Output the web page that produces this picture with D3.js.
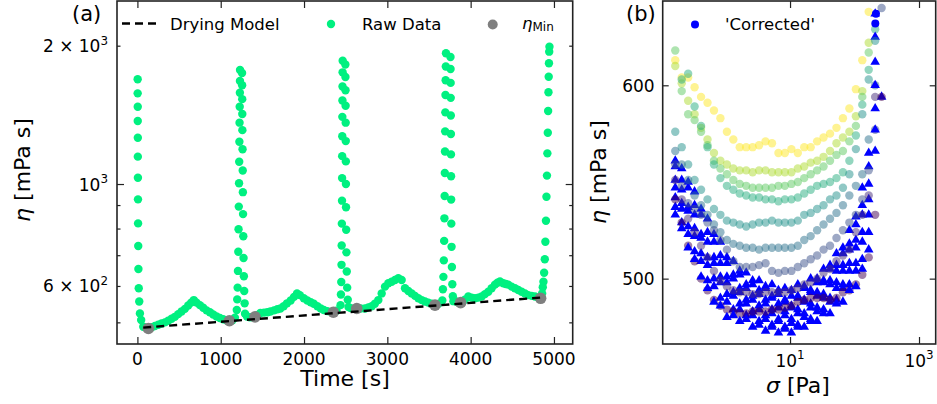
<!DOCTYPE html>
<html>
<head>
<meta charset="utf-8">
<script src="https://cdn.jsdelivr.net/npm/d3@7"></script>
<style>
  body { margin: 0; background: #fff; }
  text { font-family: "DejaVu Sans", sans-serif; fill: #000; }
</style>
</head>
<body>
<svg id="chart" width="937" height="404"></svg>
<script>
// ---------- panel (a): viscosity vs time ----------
const xTicksA = [0, 1000, 2000, 3000, 4000, 5000];
const yTicksA = [600, 1000, 2000];
const yTickLabelsA = [['6 × 10', '2'], ['10', '3'], ['2 × 10', '3']];
const yMinorA = [500, 700, 800, 900];

// raw data: spikes are the stress sweeps, the rest the rest periods
const rawTime = [
  3, 3, 4, 4, 5, 5, 6, 7, 8, 10, 12, 16, 22, 30, 45, 70,
  100, 132, 170, 210, 250, 290, 330, 370, 410, 450, 490, 530, 570, 610, 645, 677, 710, 750, 790, 830, 870, 910, 950, 990, 1030, 1070, 1104, 1140, 1170,
  1193, 1198, 1203, 1207, 1211, 1214, 1217, 1220, 1222, 1224, 1226, 1228, 1230, 1231, 1232,
  1256, 1257, 1258, 1259, 1260, 1262, 1264, 1266, 1268, 1271, 1274, 1278, 1282, 1287, 1292,
  1316, 1350, 1385, 1412, 1440, 1476, 1520, 1560, 1596, 1640, 1680, 1716, 1756, 1796, 1840, 1880, 1916, 1950, 1997, 2040, 2080, 2117, 2160, 2200, 2237, 2280, 2320, 2352, 2390,
  2438, 2443, 2447, 2450, 2452, 2454, 2456, 2457, 2458, 2459, 2460, 2461, 2462, 2463, 2464,
  2496, 2497, 2498, 2499, 2500, 2501, 2502, 2503, 2504, 2506, 2509, 2513, 2518, 2525, 2534,
  2560, 2600, 2633, 2680, 2732, 2772, 2812, 2850, 2892, 2932, 2972, 3012, 3052, 3092, 3132, 3172, 3212, 3252, 3292, 3332, 3372, 3412, 3452, 3492, 3532, 3572, 3610,
  3660, 3667, 3673, 3678, 3682, 3685, 3688, 3690, 3692, 3694, 3696, 3698, 3700, 3702, 3704,
  3758, 3759, 3760, 3761, 3762, 3763, 3764, 3765, 3766, 3768, 3771, 3775, 3780, 3786, 3793,
  3820, 3850, 3880, 3930, 3972, 4012, 4052, 4092, 4132, 4172, 4212, 4252, 4292, 4322, 4352, 4392, 4422, 4452, 4492, 4532, 4572, 4612, 4652, 4692, 4732, 4772, 4810, 4840,
  4858, 4866, 4874, 4882, 4890, 4897, 4904, 4910, 4916, 4921, 4926, 4930, 4934, 4937, 4940, 4943, 4946
];
const rawEta = [
  1690, 1575, 1473, 1371, 1261, 1147, 1032, 926, 821, 733, 653, 593, 555, 523, 506, 489,
  487, 485, 488, 491, 494, 497, 500, 504, 509, 514, 521, 528, 535, 544, 552, 559, 552, 545, 538, 531, 526, 520, 515, 511, 508, 505, 504, 505, 512,
  532, 561, 595, 647, 712, 797, 893, 1004, 1118, 1236, 1360, 1473, 1580, 1676, 1771,
  1745, 1640, 1530, 1420, 1310, 1190, 1070, 960, 860, 770, 690, 630, 585, 550, 522,
  515, 513, 513, 514, 518, 524, 525, 526, 528, 531, 534, 536, 542, 550, 558, 568, 578, 573, 564, 558, 553, 549, 542, 536, 532, 529, 527, 526, 530,
  545, 575, 612, 667, 735, 820, 920, 1030, 1150, 1270, 1400, 1520, 1630, 1750, 1855,
  1820, 1710, 1600, 1480, 1360, 1240, 1120, 1000, 890, 795, 710, 645, 595, 560, 540,
  537, 535, 536, 536, 536, 539, 542, 549, 559, 578, 598, 608, 613, 618, 624, 618, 593, 585, 578, 571, 564, 559, 555, 552, 549, 545, 548,
  558, 590, 628, 682, 752, 842, 942, 1057, 1177, 1302, 1432, 1562, 1682, 1802, 1925,
  1890, 1780, 1660, 1540, 1410, 1285, 1160, 1040, 925, 820, 730, 660, 605, 570, 556,
  556, 553, 552, 560, 569, 566, 564, 566, 569, 576, 583, 593, 604, 610, 614, 608, 606, 604, 598, 593, 588, 583, 578, 573, 571, 569, 566, 564,
  578, 596, 613, 641, 686, 749, 832, 938, 1043, 1166, 1293, 1442, 1584, 1712, 1831, 1941, 1990
];
const minTime = [132, 1104, 1412, 2352, 2633, 3572, 3880, 4840];
const minEta = [485, 504, 514, 526, 536, 545, 552, 564];
const dryTime = [70, 4890];
const dryEta = [487, 567];

// ---------- panel (b): viscosity vs stress ----------
const xTicksB = [10, 1000];
const yTicksB = [500, 600];
const sigmaGrid = [0.166, 0.209, 0.263, 0.331, 0.417, 0.525, 0.661, 0.832, 1.05, 1.32, 1.66, 2.09, 2.63, 3.31, 4.17,
  5.25, 6.61, 8.32, 10.5, 13.2, 16.6, 20.9, 26.3, 33.1, 41.7, 52.5, 66.1, 83.2, 105, 132, 166, 209, 263];

// measured curves, earliest (yellow) to latest (dark purple)
const etaSweep1 = [613, 604, 604, 599, 594, 591, 587, 583, 576, 572, 568, 568, 568, 569, 571, 570, 565, 565, 567, 565, 568, 568, 571, 573, 575, 578, 583, 588, 598, 613, 638];
const etaSweep2 = [610, 601, 592, 585, 578, 572, 565, 561, 559, 557, 556, 556, 555, 556, 556, 555, 555, 555, 555, 557, 558, 560, 561, 563, 566, 570, 573, 576, 584, 597, 622];
const etaSweep3 = [618, 597, 585, 582, 576, 569, 561, 557, 554, 551, 549, 548, 547, 547, 547, 547, 548, 548, 549, 550, 552, 554, 556, 558, 561, 564, 566, 571, 579, 594, 617];
const etaSweep4 = [null, 603, 606, 589, 579, 568, 559, 552, 548, 546, 544, 543, 542, 542, 541, 541, 540, 541, 541, 542, 544, 546, 548, 549, 550, 552, 555, 561, 574, 590, 608, 629];
const etaSweep5 = [576, 568, 559, 551, 546, 541, 536, 533, 530, 529, 528, 527, 528, 529, 529, 530, 529, 529, 529, 530, 533, 534, 536, 538, 541, 543, 547, 554, 567, 585, 603, 623];
const etaSweep6 = [566, 559, 551, 543, 538, 533, 528, 524, 520, 518, 517, 516, 516, 515, 516, 516, 516, 516, 516, 517, 520, 522, 525, 528, 531, 534, 538, 543, 548, 554, 572, 600];
const etaSweep7 = [559, 548, 539, 536, 533, 529, 525, 520, 515, 509, 506, 506, 506, 507, 508, 504, 503, 504, 504, 506, 508, 510, 512, 515, 517, 521, 525, 529, 533, 541, 556, 577, 640];
const etaSweep8 = [551, 541, 531, 524, 517, 511, 504, 499, 496, 494, 493, 493, 492, 492, 493, 493, 493, 493, 494, 495, 497, 498, 500, 503, 505, 509, 512, 515, 524, 533, 543, 594];
const etaSweep9 = [541, 529, 517, 509, 500, 494, 489, 486, 484, 483, 482, 482, 483, 483, 483, 484, 484, 485, 486, 488, 489, 490, 490, 490, 489, 490, 493, 494, 497, 502, 511, 533, 594];

// drying-corrected curves (triangles)
const etaCorr1 = [561, 557, 550, 545, 536, 531, 523, 519, 511, 509, 504, 503, 499, 499, 496, 497, 494, 495, 494, 497, 496, 500, 500, 505, 507, 513, 516, 525, 532, 547, 565, 637];
const etaCorr2 = [558, 551, 547, 538, 533, 524, 519, 512, 508, 502, 502, 497, 497, 494, 495, 491, 492, 489, 491, 491, 495, 494, 498, 499, 505, 507, 513, 518, 528, 538, 558, 625];
const etaCorr3 = [551, 546, 537, 533, 523, 519, 511, 508, 501, 500, 495, 495, 491, 492, 489, 490, 487, 488, 486, 490, 489, 493, 493, 498, 499, 504, 507, 515, 520, 533, 549, 612];
const etaCorr4 = [547, 539, 535, 526, 521, 511, 508, 501, 498, 493, 493, 489, 489, 486, 487, 484, 485, 483, 485, 484, 488, 487, 491, 492, 497, 498, 504, 508, 516, 524, 541, 600, 594];
const etaCorr5 = [542, 536, 527, 522, 513, 507, 500, 498, 492, 491, 487, 487, 483, 484, 481, 482, 479, 481, 479, 482, 482, 485, 485, 490, 490, 495, 497, 504, 508, 519, 533, 588];
const etaCorr6 = [537, 529, 523, 514, 509, 499, 496, 490, 488, 484, 484, 481, 481, 478, 479, 476, 478, 475, 477, 476, 480, 479, 483, 484, 488, 489, 495, 497, 504, 510, 524, 577];
const etaCorr7 = [533, 526, 516, 510, 501, 495, 488, 486, 480, 481, 478, 479, 475, 476, 473, 475, 472, 474, 472, 475, 475, 478, 478, 482, 482, 487, 488, 494, 496, 505, 515, 566];
const corrCircleSigma = [215, 210];
const corrCircleEta = [637, 632];

// ---------- layout ----------
const svg = d3.select('#chart');
const pa = { left: 117, right: 572.7, top: 1, bottom: 344 };
const pb = { left: 662.7, right: 935.7, top: 1, bottom: 344 };
const ink = '#222';

const xA = d3.scaleLinear().domain([-245, 5225]).range([pa.left, pa.right]);
const yA = d3.scaleLog().domain([448.6, 2502]).range([pa.bottom, pa.top]);
const xB = d3.scaleLog().domain([0.106, 1815]).range([pb.left, pb.right]);
const yB = d3.scaleLinear().domain([466.2, 643.6]).range([pb.bottom, pb.top]);

const defs = svg.append('defs');
for (const [id, p] of [['clipA', pa], ['clipB', pb]]) {
  defs.append('clipPath').attr('id', id).append('rect')
    .attr('x', p.left).attr('y', p.top).attr('width', p.right - p.left).attr('height', p.bottom - p.top);
}

function tickAxis(g, axis, transform) {
  const a = g.append('g').attr('transform', transform).call(axis);
  a.select('.domain').remove();
  a.selectAll('line').attr('stroke', ink).attr('stroke-width', 1.2);
  a.selectAll('text').remove();
  return a;
}

function supLabel(g, x, y, base, exp, anchor, size) {
  const t = g.append('text').attr('x', x).attr('y', y).attr('text-anchor', anchor).attr('font-size', size);
  t.append('tspan').text(base);
  t.append('tspan').attr('font-size', size * 0.7).attr('dy', -size * 0.42).text(exp);
  return t;
}

// ---------- panel (a) ----------
const gA = svg.append('g');
const plotA = gA.append('g').attr('clip-path', 'url(#clipA)');

plotA.append('g').selectAll('circle')
  .data(d3.zip(rawTime, rawEta))
  .join('circle')
  .attr('cx', d => xA(d[0]))
  .attr('cy', d => yA(d[1]))
  .attr('r', 4.2)
  .attr('fill', '#00f080');

plotA.append('g').selectAll('circle')
  .data(d3.zip(minTime, minEta))
  .join('circle')
  .attr('cx', d => xA(d[0]))
  .attr('cy', d => yA(d[1]))
  .attr('r', 5.8)
  .attr('fill', '#7f7f7f');

plotA.append('path')
  .datum(d3.zip(dryTime, dryEta))
  .attr('fill', 'none')
  .attr('stroke', '#000')
  .attr('stroke-width', 2.4)
  .attr('stroke-dasharray', '8,5')
  .attr('d', d3.line().x(d => xA(d[0])).y(d => yA(d[1])));

tickAxis(gA, d3.axisBottom(xA).tickValues(xTicksA).tickSize(-7), `translate(0,${pa.bottom})`);
tickAxis(gA, d3.axisTop(xA).tickValues(xTicksA).tickSize(-7), `translate(0,${pa.top})`);
tickAxis(gA, d3.axisLeft(yA).tickValues([1000]).tickSize(-7), `translate(${pa.left},0)`);
tickAxis(gA, d3.axisRight(yA).tickValues([1000]).tickSize(-7), `translate(${pa.right},0)`);
tickAxis(gA, d3.axisLeft(yA).tickValues([...yMinorA, 600, 2000]).tickSize(-3.5), `translate(${pa.left},0)`);
tickAxis(gA, d3.axisRight(yA).tickValues([...yMinorA, 600, 2000]).tickSize(-3.5), `translate(${pa.right},0)`);

gA.append('g').selectAll('text')
  .data(xTicksA)
  .join('text')
  .attr('x', d => xA(d))
  .attr('y', pa.bottom + 21)
  .attr('text-anchor', 'middle')
  .attr('font-size', 17)
  .text(d => d);

yTicksA.forEach((v, i) => supLabel(gA, pa.left - 9, yA(v) + 6.5, yTickLabelsA[i][0], yTickLabelsA[i][1], 'end', 17));

gA.append('rect')
  .attr('x', pa.left).attr('y', pa.top)
  .attr('width', pa.right - pa.left).attr('height', pa.bottom - pa.top)
  .attr('fill', 'none').attr('stroke', ink).attr('stroke-width', 1.6);

gA.append('text').attr('x', 345).attr('y', 386).attr('text-anchor', 'middle').attr('font-size', 22).text('Time [s]');
const ylabA = gA.append('text').attr('transform', 'translate(30,170) rotate(-90)').attr('text-anchor', 'middle').attr('font-size', 22);
ylabA.append('tspan').attr('font-style', 'italic').text('η');
ylabA.append('tspan').text(' [mPa s]');
gA.append('text').attr('x', 72).attr('y', 21).attr('font-size', 21).text('(a)');

// legend (a)
const legA = gA.append('g');
legA.append('line').attr('x1', 122).attr('x2', 156).attr('y1', 23.5).attr('y2', 23.5)
  .attr('stroke', '#000').attr('stroke-width', 2.4).attr('stroke-dasharray', '8,5');
legA.append('text').attr('x', 170).attr('y', 29.5).attr('font-size', 16.5).text('Drying Model');
legA.append('circle').attr('cx', 331).attr('cy', 24).attr('r', 4.2).attr('fill', '#00f080');
legA.append('text').attr('x', 362).attr('y', 29.5).attr('font-size', 16.5).text('Raw Data');
legA.append('circle').attr('cx', 492.7).attr('cy', 24.5).attr('r', 5).attr('fill', '#7f7f7f');
const minLab = legA.append('text').attr('x', 522).attr('y', 28.5).attr('font-size', 16.5);
minLab.append('tspan').attr('font-style', 'italic').text('η');
minLab.append('tspan').attr('font-size', 12).attr('dy', 2.5).text('Min');

// ---------- panel (b) ----------
const gB = svg.append('g');
const plotB = gB.append('g').attr('clip-path', 'url(#clipB)');
const sweeps = [etaSweep1, etaSweep2, etaSweep3, etaSweep4, etaSweep5, etaSweep6, etaSweep7, etaSweep8, etaSweep9];
const corrected = [etaCorr1, etaCorr2, etaCorr3, etaCorr4, etaCorr5, etaCorr6, etaCorr7];
const toPoints = arr => arr.map((v, i) => [sigmaGrid[i], v]).filter(d => d[1] != null);
const tri = d3.symbol().type(d3.symbolTriangle).size(40);

sweeps.forEach((arr, k) => {
  const color = d3.interpolateViridis(1 - k / (sweeps.length - 1));
  plotB.append('g').selectAll('circle')
    .data(toPoints(arr))
    .join('circle')
    .attr('cx', d => xB(d[0]))
    .attr('cy', d => yB(d[1]))
    .attr('r', 4.2)
    .attr('fill', color)
    .attr('fill-opacity', 0.5);
  const c = corrected[k - 2];
  if (c) {
    plotB.append('g').selectAll('path')
      .data(toPoints(c))
      .join('path')
      .attr('d', tri)
      .attr('transform', d => `translate(${xB(d[0])},${yB(d[1])})`)
      .attr('fill', '#0000ff');
  }
});

plotB.append('g').selectAll('circle')
  .data(d3.zip(corrCircleSigma, corrCircleEta))
  .join('circle')
  .attr('cx', d => xB(d[0]))
  .attr('cy', d => yB(d[1]))
  .attr('r', 4)
  .attr('fill', '#0000ff');

tickAxis(gB, d3.axisBottom(xB).tickValues(xTicksB).tickSize(-7), `translate(0,${pb.bottom})`);
tickAxis(gB, d3.axisTop(xB).tickValues(xTicksB).tickSize(-7), `translate(0,${pb.top})`);
tickAxis(gB, d3.axisLeft(yB).tickValues(yTicksB).tickSize(-6), `translate(${pb.left},0)`);
tickAxis(gB, d3.axisRight(yB).tickValues(yTicksB).tickSize(-6), `translate(${pb.right},0)`);

xTicksB.forEach(v => supLabel(gB, xB(v), pb.bottom + 22.5, '10', String(Math.round(Math.log10(v))), 'middle', 17));
gB.append('g').selectAll('text')
  .data(yTicksB)
  .join('text')
  .attr('x', pb.left - 8)
  .attr('y', d => yB(d) + 6.5)
  .attr('text-anchor', 'end')
  .attr('font-size', 17)
  .text(d => d);

gB.append('rect')
  .attr('x', pb.left).attr('y', pb.top)
  .attr('width', pb.right - pb.left).attr('height', pb.bottom - pb.top)
  .attr('fill', 'none').attr('stroke', ink).attr('stroke-width', 1.6);

const xlabB = gB.append('text').attr('x', 798).attr('y', 393).attr('text-anchor', 'middle').attr('font-size', 22);
xlabB.append('tspan').attr('font-style', 'italic').text('σ');
xlabB.append('tspan').text(' [Pa]');
const ylabB = gB.append('text').attr('transform', 'translate(606,172) rotate(-90)').attr('text-anchor', 'middle').attr('font-size', 22);
ylabB.append('tspan').attr('font-style', 'italic').text('η');
ylabB.append('tspan').text(' [mPa s]');
gB.append('text').attr('x', 626).attr('y', 21).attr('font-size', 21).text('(b)');

gB.append('circle').attr('cx', 695).attr('cy', 24.5).attr('r', 4).attr('fill', '#0000ff');
gB.append('text').attr('x', 725).attr('y', 29.5).attr('font-size', 16.5).text("'Corrected'");
</script>
</body>
</html>
